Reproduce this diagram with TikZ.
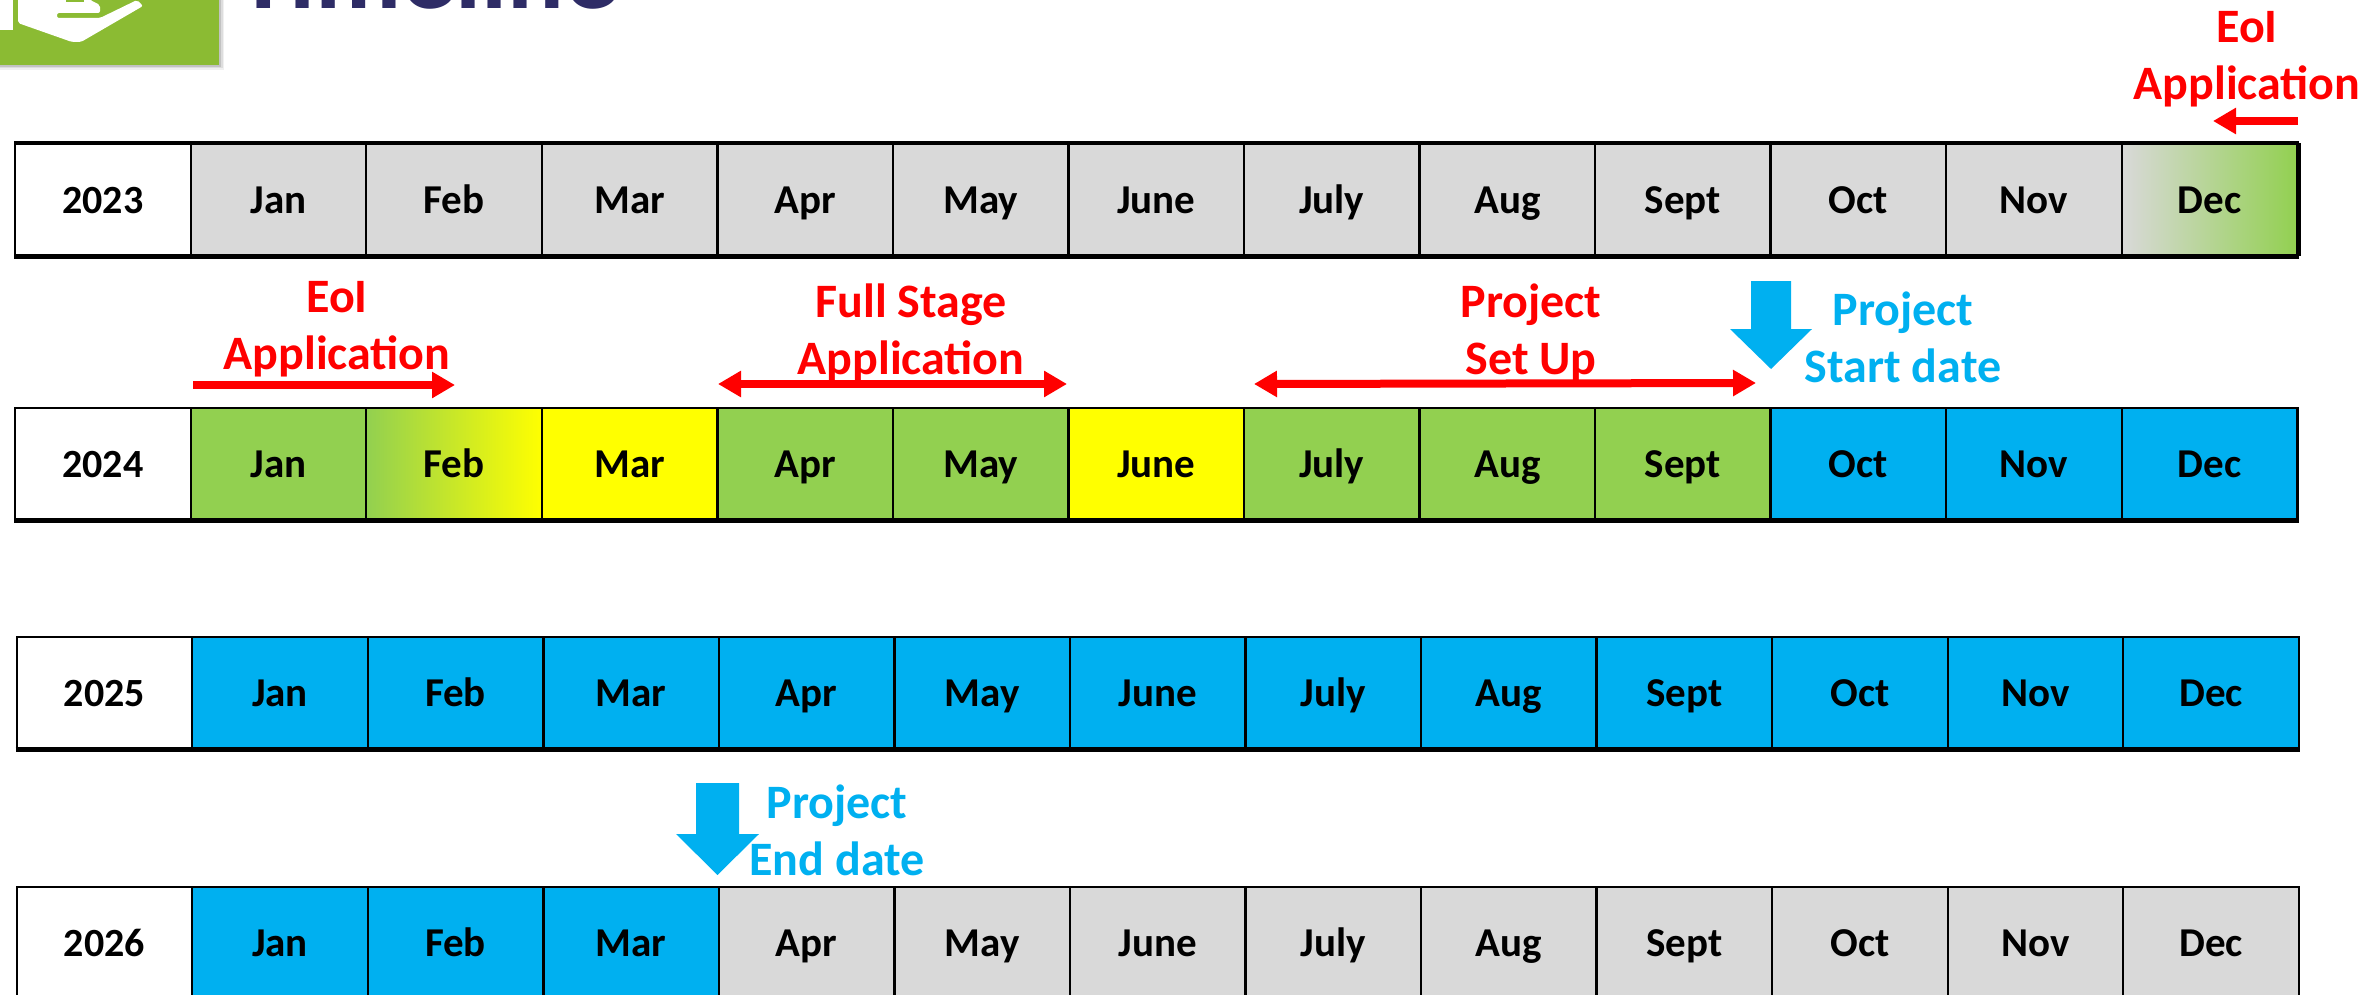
\documentclass[tikz,border=0pt]{standalone}
\usepackage{fontspec}
\setmainfont{Carlito}
\usetikzlibrary{arrows.meta,calc}
\definecolor{cgrey}{HTML}{D9D9D9}
\definecolor{cgreen}{HTML}{92D050}
\definecolor{cblue}{HTML}{00B0F0}
\definecolor{cyell}{HTML}{FFFF00}
\definecolor{cred}{HTML}{FF0000}
\definecolor{cnavy}{HTML}{2E2C66}
\definecolor{clogo}{HTML}{8BBB33}
\tikzset{
  cellbase/.style={draw=black,line width=2.4pt,minimum height=111pt,inner sep=0pt,
    text height=27.5pt,text depth=0pt,font=\bfseries\fontsize{41}{41}\selectfont,text=black},
  yearcell/.style={cellbase,fill=white,minimum width=175.5pt,font=\bfseries\fontsize{40}{40}\selectfont},
  monthcell/.style={cellbase,minimum width=175.55pt},
  G/.style={fill=cgrey},
  L/.style={fill=cgreen},
  B/.style={fill=cblue},
  Y/.style={fill=cyell},
  GL/.style={left color=cgrey,right color=cgreen},
  LY/.style={left color=cgreen,right color=cyell},
  redlabel/.style={align=center,text=cred,font=\bfseries\fontsize{48}{57}\selectfont,inner sep=0pt},
  bluelabel/.style={align=center,text=cblue,font=\bfseries\fontsize{48}{57}\selectfont,inner sep=0pt},
  redline/.style={draw=cred,line width=8pt},
  rhead/.style={-{Triangle[length=23pt,width=25pt]}},
  bothhead/.style={{Triangle[length=23pt,width=25pt]}-{Triangle[length=23pt,width=25pt]}},
  blockarrow/.style={fill=cblue,draw=none},
  bottomline/.style={line width=5pt,draw=black}
}
\newcommand{\monthrow}[4]{%
  \node[yearcell,anchor=north west] (#1y) at (14+#2,#3) {#4};
  \foreach \lab/\s [count=\i] in \rowstyles {
    \node[monthcell,anchor=north west,style/.expanded=\s] (#1m\i) at ({14+#2+175.5+(\i-1)*175.55},#3) {\lab};
  }
  \draw[bottomline] (#1y.south west) -- (#1m12.south east);
}
\begin{document}
\begin{tikzpicture}[x=1pt,y=-1pt]
\useasboundingbox (0,0) rectangle (2377,995);
\clip (0,0) rectangle (2377,995);
% logo
\foreach \d/\o in {5/0.06,3.5/0.08,2/0.12}{
  \fill[black,opacity=\o] (-5,-5) rectangle (219+\d,65+\d);
}
\fill[clogo] (-5,-5) rectangle (219,65);
\fill[white] (-2,-2) rectangle (13,30);
\fill[white,rounded corners=2pt] (18,-5) -- (18,23) -- (72,42) -- (81,42) -- (143,6) -- (137,0) -- (100,18) -- (57,18) -- (57,13) -- (100,13) -- (100,5) -- (90,0) -- (90,-5) -- cycle;
\fill[clogo] (66,0) rectangle (84,2);
% title
\node[anchor=base west,inner sep=0pt,text=cnavy,font=\bfseries\fontsize{106}{106}\selectfont] (title) at (237,9) {Timeline};
% rows
\def\rowstyles{Jan/G,Feb/G,Mar/G,Apr/G,May/G,June/G,July/G,Aug/G,Sept/G,Oct/G,Nov/G,Dec/GL}
\monthrow{a}{0}{143}{2023}
\draw[line width=4pt,draw=black] (am12.north east) -- (am12.south east);
\draw[line width=3pt,draw=black] (ay.north west) -- (am12.north east);
\def\rowstyles{Jan/L,Feb/LY,Mar/Y,Apr/L,May/L,June/Y,July/L,Aug/L,Sept/L,Oct/B,Nov/B,Dec/B}
\monthrow{b}{0}{407}{2024}
\def\rowstyles{Jan/B,Feb/B,Mar/B,Apr/B,May/B,June/B,July/B,Aug/B,Sept/B,Oct/B,Nov/B,Dec/B}
\monthrow{c}{1.5}{636}{2025}
\def\rowstyles{Jan/B,Feb/B,Mar/B,Apr/G,May/G,June/G,July/G,Aug/G,Sept/G,Oct/G,Nov/G,Dec/G}
\monthrow{d}{1.5}{886}{2026}
% labels
\node[redlabel] (l1) at (2247,59) {EoI\\Application};
\node[redlabel] (l2) at (337,329) {EoI\\Application};
\node[redlabel] (l3) at (911,333) {Full Stage\\Application};
\node[redlabel] (l4) at (1531,333) {Project\\Set Up};
\node[bluelabel] (l5) at (1903,337) {Project\\Start date};
\node[bluelabel] (l6) at (837,830) {Project\\End date};
% red arrows
\coordinate (a1s) at (2298,121); \coordinate (a1e) at (2213,121);
\coordinate (a2s) at (193,385);  \coordinate (a2e) at (455,385);
\coordinate (a3s) at (718,384);  \coordinate (a3e) at (1067,384);
\coordinate (a4s) at (1254,384); \coordinate (a4e) at (1756,383);
\draw[redline,rhead] (a1s) -- (a1e);
\draw[redline,rhead] (a2s) -- (a2e);
\draw[redline,bothhead] (a3s) -- (a3e);
\draw[redline,bothhead] (a4s) -- (a4e);
% block arrows
\fill[blockarrow] (1751,281) -- (1791,281) -- (1791,329) -- (1812,329) -- (1771,369) -- (1730,329) -- (1751,329) -- cycle;
\fill[blockarrow] (696,783) -- (739,783) -- (739,834) -- (759,834) -- (717.5,875) -- (676,834) -- (696,834) -- cycle;
\end{tikzpicture}
\end{document}
